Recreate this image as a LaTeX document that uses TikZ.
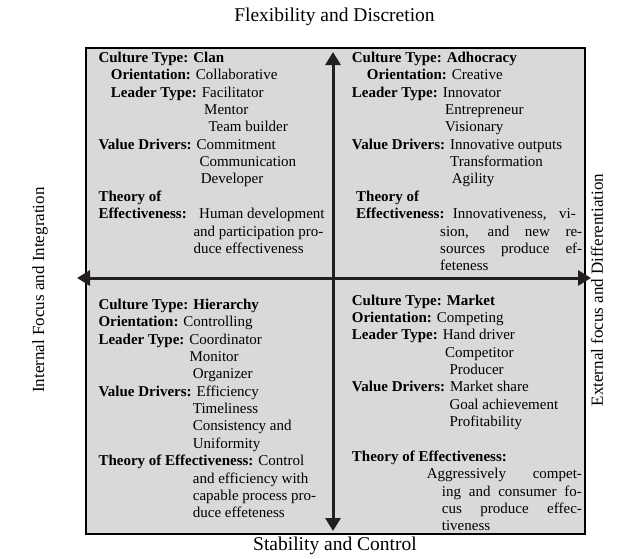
\documentclass[tikz,border=0pt]{standalone}
\usepackage{fontspec}
\setmainfont{Liberation Serif}
\usetikzlibrary{arrows.meta}
\definecolor{boxgray}{RGB}{217,217,217}
\definecolor{axisgray}{RGB}{35,31,32}
\begin{document}
\begin{tikzpicture}[x=1pt,y=-1pt,
  qtext/.style={anchor=base west,inner sep=0pt,font=\fontsize{15}{17}\selectfont},
  outer/.style={inner sep=0pt,font=\fontsize{17}{20}\selectfont},
  outerbig/.style={inner sep=0pt,font=\fontsize{19.5}{22}\selectfont},
  axis/.style={draw=axisgray,line width=3pt,{Triangle[width=15pt,length=13pt]}-{Triangle[width=15pt,length=13pt]}}]
\useasboundingbox (0,0) rectangle (618,558);
% frame
\node[draw=black,line width=2.2pt,fill=boxgray,minimum width=499pt,minimum height=486pt,inner sep=0pt,anchor=north west] (frame) at (85,47) {};
% axes
\coordinate (N) at (333,52);
\coordinate (S) at (333,531);
\coordinate (W) at (77,278);
\coordinate (E) at (591,278);
\draw[axis] (N) -- (S);
\draw[axis] (W) -- (E);
% outer labels
\node[outerbig] (top) at (334.5,17) {Flexibility and Discretion};
\node[outerbig] (bottom) at (335,546) {Stability and Control};
\node[outer,rotate=90] (left) at (40,290) {Internal Focus and Integration};
\node[outer,rotate=90] (right) at (597,290) {External focus and Differentiation};
% Quadrant 1: Clan
\node[qtext] (q1a) at (98.3,62.5) {\textbf{Culture Type: Clan}};
\node[qtext] (q1b) at (110.7,79.85) {\textbf{Orientation:} Collaborative};
\node[qtext] (q1c) at (110.7,97.2) {\textbf{Leader Type:} Facilitator};
\node[qtext] (q1d) at (204,114.55) {Mentor};
\node[qtext] (q1e) at (208.3,131.9) {Team builder};
\node[qtext] (q1f) at (98.3,149.25) {\textbf{Value Drivers:} Commitment};
\node[qtext] (q1g) at (199.3,166.6) {Communication};
\node[qtext] (q1h) at (200.7,183.95) {Developer};
\node[qtext] (q1i) at (98.3,201.3) {\textbf{Theory of}};
\node[qtext] (q1j) at (98.3,218.65) {\textbf{Effectiveness:}};
\node[qtext] (q1k) at (199,218.65) {Human development};
\node[qtext] (q1l) at (193.3,236) {and participation pro-};
\node[qtext] (q1m) at (193.3,253.35) {duce effectiveness};
% Quadrant 2: Adhocracy
\node[qtext] (q2a) at (351.7,62.5) {\textbf{Culture Type: Adhocracy}};
\node[qtext] (q2b) at (366.7,79.85) {\textbf{Orientation:} Creative};
\node[qtext] (q2c) at (351.7,97.2) {\textbf{Leader Type:} Innovator};
\node[qtext] (q2d) at (445,114.55) {Entrepreneur};
\node[qtext] (q2e) at (445,131.9) {Visionary};
\node[qtext] (q2f) at (351.7,149.25) {\textbf{Value Drivers:} Innovative outputs};
\node[qtext] (q2g) at (450,166.6) {Transformation};
\node[qtext] (q2h) at (451.7,183.95) {Agility};
\node[qtext] (q2i) at (356,201.3) {\textbf{Theory of}};
\node[qtext] (q2j) at (356,218.65) {\textbf{Effectiveness:}};
\node[qtext] (q2k) at (452.7,218.65) {\makebox[123pt][s]{Innovativeness, vi-}};
\node[qtext] (q2l) at (440,236) {\makebox[142pt][s]{sion, and new re-}};
\node[qtext] (q2m) at (440,253.35) {\makebox[142pt][s]{sources produce ef-}};
\node[qtext] (q2n) at (440,270.7) {feteness};
% Quadrant 3: Hierarchy
\node[qtext] (q3a) at (98.3,309.5) {\textbf{Culture Type: Hierarchy}};
\node[qtext] (q3b) at (98.3,326.85) {\textbf{Orientation:} Controlling};
\node[qtext] (q3c) at (98.3,344.2) {\textbf{Leader Type:} Coordinator};
\node[qtext] (q3d) at (189.3,361.55) {Monitor};
\node[qtext] (q3e) at (192.7,378.9) {Organizer};
\node[qtext] (q3f) at (98.3,396.25) {\textbf{Value Drivers:} Efficiency};
\node[qtext] (q3g) at (192.7,413.6) {Timeliness};
\node[qtext] (q3h) at (192.7,430.95) {Consistency and};
\node[qtext] (q3i) at (192.7,448.3) {Uniformity};
\node[qtext] (q3j) at (98.3,465.65) {\textbf{Theory of Effectiveness:} Control};
\node[qtext] (q3k) at (192.7,483) {and efficiency with};
\node[qtext] (q3l) at (192.7,500.35) {capable process pro-};
\node[qtext] (q3m) at (192.7,517.7) {duce effeteness};
% Quadrant 4: Market
\node[qtext] (q4a) at (351.7,305.2) {\textbf{Culture Type: Market}};
\node[qtext] (q4b) at (351.7,322.55) {\textbf{Orientation:} Competing};
\node[qtext] (q4c) at (351.7,339.9) {\textbf{Leader Type:} Hand driver};
\node[qtext] (q4d) at (445,357.25) {Competitor};
\node[qtext] (q4e) at (449.3,374.6) {Producer};
\node[qtext] (q4f) at (351.7,391.95) {\textbf{Value Drivers:} Market share};
\node[qtext] (q4g) at (449.3,409.3) {Goal achievement};
\node[qtext] (q4h) at (449.3,426.65) {Profitability};
\node[qtext] (q4i) at (351.7,461.35) {\textbf{Theory of Effectiveness:}};
\node[qtext] (q4j) at (426.7,478.7) {\makebox[155pt][s]{Aggressively compet-}};
\node[qtext] (q4k) at (441.7,496.05) {\makebox[140pt][s]{ing and consumer fo-}};
\node[qtext] (q4l) at (441.7,513.4) {\makebox[140pt][s]{cus produce effec-}};
\node[qtext] (q4m) at (441.7,530.75) {tiveness};
\end{tikzpicture}
\end{document}
